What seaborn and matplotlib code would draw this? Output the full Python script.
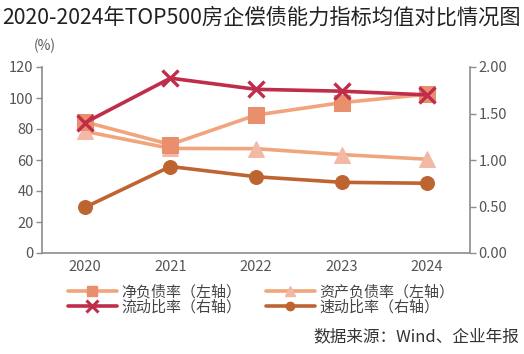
import matplotlib
matplotlib.use("Agg")
import matplotlib.pyplot as plt
import seaborn as sns
import pandas as pd
import numpy as np

years = ["2020", "2021", "2022", "2023", "2024"]
net_debt = [84.6, 70.0, 89.0, 97.0, 102.4]
asset_liab = [78.5, 67.5, 67.3, 63.5, 60.5]
current_ratio = [1.40, 1.88, 1.76, 1.74, 1.70]
quick_ratio = [0.49, 0.93, 0.82, 0.76, 0.75]
left_ticks = [0, 20, 40, 60, 80, 100, 120]
right_ticks = [0.0, 0.5, 1.0, 1.5, 2.0]

sns.set_theme(style="white")
plt.rcParams['font.family'] = ['Noto Sans CJK SC', 'DejaVu Sans']

fig = plt.figure(figsize=(5.24, 3.54), dpi=100)
ax = fig.add_axes([42/524, 1-253/354, (470-42)/524, (253-67)/354])
ax2 = ax.twinx()

x = np.arange(len(years))
df = pd.DataFrame({"x": x, "net": net_debt, "asset": asset_liab,
                   "cur": current_ratio, "quick": quick_ratio})

c_net_line = "#F2A47C"
c_net_mark = "#E98F6E"
c_asset_line = "#F0A57C"
c_asset_mark = "#F3B9A6"
c_cur = "#C02D4A"
c_quick = "#BE6430"

sns.lineplot(data=df, x="x", y="net", ax=ax, color=c_net_line, lw=2.6,
             marker="s", markersize=11, markerfacecolor=c_net_mark,
             markeredgecolor=c_net_mark, zorder=3)
sns.lineplot(data=df, x="x", y="asset", ax=ax, color=c_asset_line, lw=2.6,
             marker="^", markersize=11, markerfacecolor=c_asset_mark,
             markeredgecolor=c_asset_mark, zorder=2)
sns.lineplot(data=df, x="x", y="cur", ax=ax2, color=c_cur, lw=2.6,
             marker="x", markersize=12, markeredgewidth=2.4,
             markeredgecolor=c_cur, zorder=4)
sns.lineplot(data=df, x="x", y="quick", ax=ax2, color=c_quick, lw=2.6,
             marker="o", markersize=10, markerfacecolor=c_quick,
             markeredgecolor=c_quick, zorder=4)

ax.set_xlim(-0.5, 4.5)
ax.set_ylim(0, 120)
ax2.set_ylim(0, 2.0)
ax.set_xticks(x)
ax.set_xticklabels(years)
ax.set_xticks(np.arange(-0.5, 5, 1.0), minor=True)
ax.set_yticks(left_ticks)
ax.set_yticklabels([str(t) for t in left_ticks])
ax2.set_yticks(right_ticks)
ax2.set_yticklabels([f"{t:.2f}" for t in right_ticks])
ax.set_xlabel("")
ax.set_ylabel("")
ax2.set_ylabel("")

grey = "#8C8C8C"
tick_col = "#555555"
for a in (ax, ax2):
    a.spines["top"].set_visible(False)
    for s in ["left", "right", "bottom"]:
        a.spines[s].set_color(grey)
        a.spines[s].set_linewidth(1.2)
ax.spines["right"].set_visible(False)
ax2.spines["left"].set_visible(False)
ax2.spines["bottom"].set_visible(False)

ax.tick_params(axis="x", which="major", length=0, labelsize=10.5, labelcolor=tick_col, pad=5)
ax.tick_params(axis="x", which="minor", length=5, width=1, color=grey, direction="out")
ax.tick_params(axis="y", length=4, width=1, color=grey, direction="out", labelsize=10.5, labelcolor=tick_col, pad=2)
ax2.tick_params(axis="y", length=4, width=1, color=grey, direction="out", labelsize=10.5, labelcolor=tick_col, pad=2)

fig.text(0.5, 1-18/354, "2020-2024年TOP500房企偿债能力指标均值对比情况图",
         ha="center", va="center", fontsize=15.3, color="#222222")
fig.text(45/524, 1-46/354, "(%)", ha="center", va="center", fontsize=10, color=tick_col)

from matplotlib.lines import Line2D
handles = [
    Line2D([], [], color=c_net_line, lw=2.6, marker="s", markersize=7,
           markerfacecolor=c_net_mark, markeredgecolor=c_net_mark),
    Line2D([], [], color=c_cur, lw=2.6, marker="x", markersize=8, markeredgewidth=2.2),
    Line2D([], [], color=c_asset_line, lw=2.6, marker="^", markersize=7,
           markerfacecolor=c_asset_mark, markeredgecolor=c_asset_mark),
    Line2D([], [], color=c_quick, lw=2.6, marker="o", markersize=6,
           markerfacecolor=c_quick, markeredgecolor=c_quick),
]
labels = ["净负债率（左轴）", "流动比率（右轴）", "资产负债率（左轴）", "速动比率（右轴）"]
leg = fig.legend(handles, labels, ncol=2, loc="upper left",
                 bbox_to_anchor=(60/524, 1-277/354), frameon=False,
                 fontsize=10.8, handlelength=3.3, handletextpad=0.3,
                 columnspacing=1.6, labelspacing=0.05, borderpad=0.0)
for t in leg.get_texts():
    t.set_color("#444444")

fig.text(519/524, 1-337/354, "数据来源：Wind、企业年报", ha="right", va="center",
         fontsize=12, color="#333333")

fig.savefig("out.png", dpi=100, facecolor="white")
